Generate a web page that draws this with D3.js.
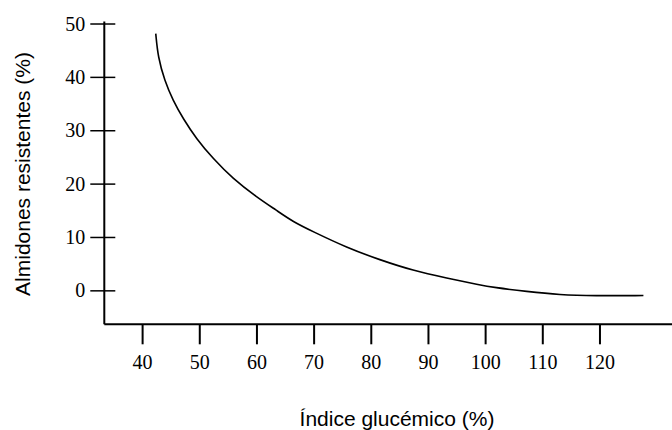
<!DOCTYPE html>
<html lang="es">
<head>
  <meta charset="UTF-8">
  <title>Almidones resistentes</title>
  <script src="https://d3js.org/d3.v7.min.js"></script>
  <style>
    body { margin: 0; background: #fff; }
  </style>
</head>
<body>
  <div id="container"></div>
  <script>
    // curva (indice glucemico, almidones resistentes)
    var indice = [42.3, 42.7, 43.85, 45.3, 47.1, 49.4, 52.3, 55.8, 59.9, 63.4, 66.3, 69.8, 75.7, 81.5, 87.3, 93.2, 99.0, 101.3, 107.2, 113.0, 118.9, 127.6];
    var almidon = [48.2, 43.75, 39.4, 35.7, 32.25, 28.5, 24.8, 21.0, 17.6, 15.1, 12.95, 11.1, 8.1, 5.8, 3.8, 2.4, 1.1, 0.65, -0.13, -0.75, -0.93, -0.88];
    var xTicks = [40, 50, 60, 70, 80, 90, 100, 110, 120];
    var yTicks = [0, 10, 20, 30, 40, 50];

    var width = 672, height = 430;

    var svg = d3.select("#container")
      .append("svg")
      .attr("width", width)
      .attr("height", height)

    var x = d3.scaleLinear().domain([33.3, 132.6]).range([104.3, 672]);
    var y = d3.scaleLinear().domain([-6.27, 50.47]).range([324.3, 21.5]);

    var data = indice.map(function (d, i) { return [d, almidon[i]]; });

    // eje x: ticks hacia abajo
    var gx = svg.append("g").attr("transform", "translate(0," + y(-6.27) + ")");
    gx.append("line")
      .attr("x1", x.range()[0]).attr("x2", x.range()[1])
      .attr("stroke", "#000").attr("stroke-width", 2);
    gx.selectAll(".tx")
      .data(xTicks)
      .enter()
      .append("line")
      .attr("x1", function (d) { return x(d); })
      .attr("x2", function (d) { return x(d); })
      .attr("y1", 0).attr("y2", 20)
      .attr("stroke", "#000").attr("stroke-width", 2);
    gx.selectAll("text")
      .data(xTicks)
      .enter()
      .append("text")
      .attr("x", function (d) { return x(d); })
      .attr("y", 45)
      .attr("text-anchor", "middle")
      .attr("font-family", "Liberation Serif, Times New Roman, serif")
      .attr("font-size", 20)
      .text(function (d) { return d; });

    // eje y: ticks cruzando el eje
    var gy = svg.append("g").attr("transform", "translate(" + x(33.3) + ",0)");
    gy.append("line")
      .attr("y1", y.range()[0]).attr("y2", y.range()[1])
      .attr("stroke", "#000").attr("stroke-width", 2);
    gy.selectAll(".ty")
      .data(yTicks)
      .enter()
      .append("line")
      .attr("x1", -14).attr("x2", 11)
      .attr("y1", function (d) { return y(d); })
      .attr("y2", function (d) { return y(d); })
      .attr("stroke", "#000").attr("stroke-width", 1.5);
    gy.selectAll("text")
      .data(yTicks)
      .enter()
      .append("text")
      .attr("x", -19)
      .attr("y", function (d) { return y(d); })
      .attr("dy", "0.33em")
      .attr("text-anchor", "end")
      .attr("font-family", "Liberation Serif, Times New Roman, serif")
      .attr("font-size", 20)
      .text(function (d) { return d; });

    // curva
    svg.append("path")
      .datum(data)
      .attr("d", d3.line()
        .x(function (d) { return x(d[0]); })
        .y(function (d) { return y(d[1]); })
        .curve(d3.curveBasis))
      .attr("fill", "none")
      .attr("stroke", "#000")
      .attr("stroke-width", 1.6);

    // titulos
    svg.append("text")
      .attr("x", 397)
      .attr("y", 426)
      .attr("text-anchor", "middle")
      .attr("font-family", "Liberation Sans, Arial, sans-serif")
      .attr("font-size", 21)
      .text("Índice glucémico (%)");

    svg.append("text")
      .attr("transform", "translate(30,174) rotate(-90)")
      .attr("text-anchor", "middle")
      .attr("font-family", "Liberation Sans, Arial, sans-serif")
      .attr("font-size", 21)
      .text("Almidones resistentes (%)");
  </script>
</body>
</html>
